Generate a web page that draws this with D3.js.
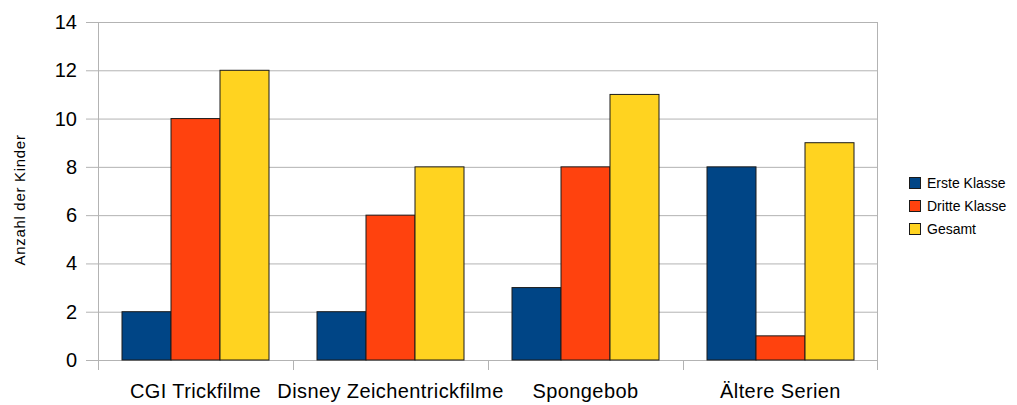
<!DOCTYPE html>
<html>
<head>
<meta charset="utf-8">
<script src="https://cdn.jsdelivr.net/npm/d3@7"></script>
<style>
  body { margin: 0; background: #fff; }
  text { font-family: "Liberation Sans", Arial, sans-serif; fill: #000; }
</style>
</head>
<body>
<div id="chart"></div>
<script>
const width = 1017;
const height = 405;

// chart data
const categories = ["CGI Trickfilme", "Disney Zeichentrickfilme", "Spongebob", "Ältere Serien"];
const seriesNames = ["Erste Klasse", "Dritte Klasse", "Gesamt"];
const ersteKlasse = [2, 2, 3, 8];
const dritteKlasse = [10, 6, 8, 1];
const gesamt = [12, 8, 11, 9];
const yTicks = [0, 2, 4, 6, 8, 10, 12, 14];
const colors = ["#004586", "#ff420e", "#ffd320"];

const seriesValues = [ersteKlasse, dritteKlasse, gesamt];

const margin = { left: 98, right: 139, top: 22, bottom: 45 };
const plotW = width - margin.left - margin.right;
const plotH = height - margin.top - margin.bottom;

const svg = d3.select("#chart").append("svg")
    .attr("width", width)
    .attr("height", height);

const g = svg.append("g")
    .attr("transform", `translate(${margin.left},${margin.top})`);

const x = d3.scaleBand().domain(categories).range([0, plotW]).paddingInner(0).paddingOuter(0);
const xInner = d3.scaleBand().domain(seriesNames).range([24, x.bandwidth() - 24]);
const y = d3.scaleLinear().domain([0, 14]).range([plotH, 0]);

// horizontal gridlines with small tick stubs on the left
g.selectAll(".grid")
    .data(yTicks)
    .enter().append("line")
    .attr("x1", -12)
    .attr("x2", plotW)
    .attr("y1", d => y(d) + 0.5)
    .attr("y2", d => y(d) + 0.5)
    .attr("stroke", "#b3b3b3")
    .attr("stroke-width", 1);

// y tick labels
g.selectAll(".ylabel")
    .data(yTicks)
    .enter().append("text")
    .attr("x", -21)
    .attr("y", d => y(d))
    .attr("dy", "0.35em")
    .attr("text-anchor", "end")
    .style("font-size", "20px")
    .text(d => d);

// vertical axis line and right border
g.append("line")
    .attr("x1", 0.5).attr("x2", 0.5)
    .attr("y1", 0).attr("y2", plotH + 10)
    .attr("stroke", "#b3b3b3");
g.append("line")
    .attr("x1", plotW - 0.5).attr("x2", plotW - 0.5)
    .attr("y1", 0).attr("y2", plotH + 10)
    .attr("stroke", "#b3b3b3");

// category boundary ticks
const bounds = categories.slice(1).map(c => x(c));
g.selectAll(".xtick")
    .data(bounds)
    .enter().append("line")
    .attr("x1", d => Math.round(d) + 0.5)
    .attr("x2", d => Math.round(d) + 0.5)
    .attr("y1", plotH)
    .attr("y2", plotH + 10)
    .attr("stroke", "#b3b3b3");

// bars
categories.forEach((cat, i) => {
    seriesNames.forEach((s, j) => {
        const v = seriesValues[j][i];
        g.append("rect")
            .attr("x", x(cat) + xInner(s))
            .attr("y", y(v))
            .attr("width", xInner.bandwidth())
            .attr("height", plotH - y(v))
            .attr("fill", colors[j])
            .attr("stroke", "#1a1a1a")
            .attr("stroke-width", 1);
    });
});

// category labels
g.selectAll(".xlabel")
    .data(categories)
    .enter().append("text")
    .attr("x", d => x(d) + x.bandwidth() / 2)
    .attr("y", plotH + 38)
    .attr("text-anchor", "middle")
    .style("font-size", "20px")
    .style("letter-spacing", "0.4px")
    .text(d => d);

// y axis title
svg.append("text")
    .attr("transform", "translate(25,200) rotate(-90)")
    .attr("text-anchor", "middle")
    .style("font-size", "15px")
    .style("letter-spacing", "0.7px")
    .text("Anzahl der Kinder");

// legend
const legend = svg.append("g").attr("transform", "translate(909,177)");
seriesNames.forEach((s, j) => {
    legend.append("rect")
        .attr("x", 0.5)
        .attr("y", j * 23 + 0.5)
        .attr("width", 11)
        .attr("height", 11)
        .attr("fill", colors[j])
        .attr("stroke", "#1a1a1a");
    legend.append("text")
        .attr("x", 18)
        .attr("y", j * 23 + 6)
        .attr("dy", "0.35em")
        .style("font-size", "14px")
        .text(s);
});
</script>
</body>
</html>
